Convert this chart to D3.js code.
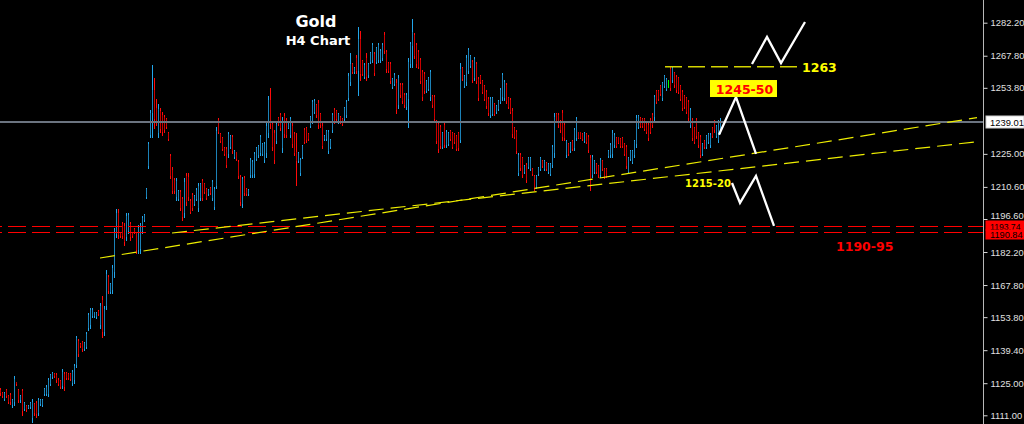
<!DOCTYPE html>
<html><head><meta charset="utf-8">
<script src="https://cdn.jsdelivr.net/npm/d3@7"></script>
<style>html,body{margin:0;padding:0;background:#000;overflow:hidden}</style>
</head><body><svg id="chart" width="1024" height="424"></svg>
<script>
// ---- DATA (Gold, H4) ----
const opens=[
1122.2,1120.9,1118.3,1121.9,1119.4,1119.8,1115.3,1116.8,1125.4,1121.9,
1117.5,1121.6,1113.8,1115.1,1114.3,1114.6,1110.0,1115.9,1116.4,1112.2,
1115.9,1115.5,1120.3,1120.5,1120.4,1124.8,1127.6,1129.1,1128.6,1126.6,
1125.8,1123.6,1129.0,1129.3,1128.8,1129.0,1125.0,1126.2,1132.9,1143.4,
1142.1,1142.9,1140.0,1141.0,1149.0,1150.2,1154.5,1154.4,1153.8,1156.5,
1150.5,1161.2,1147.5,1158.5,1171.3,1164.8,1165.7,1173.5,1190.2,1199.4,
1190.8,1194.5,1193.5,1188.8,1191.5,1194.4,1190.8,1192.2,1190.3,1183.2,
1183.5,1191.4,1196.3,1206.0,1219.5,1233.3,1242.8,1253.0,1245.0,1234.0,
1243.5,1242.0,1241.0,1240.0,1234.2,1224.0,1218.0,1213.6,1206.0,1205.4,
1208.5,1205.2,1199.0,1215.3,1215.0,1204.6,1207.0,1203.2,1205.4,1201.5,
1205.7,1213.0,1211.7,1209.5,1207.4,1210.3,1205.8,1201.8,1211.0,1239.8,
1233.6,1231.9,1227.7,1227.2,1224.8,1228.0,1232.5,1223.5,1225.6,1221.6,
1214.8,1203.2,1214.6,1209.6,1207.5,1216.0,1215.8,1216.2,1222.9,1224.3,
1225.3,1225.0,1222.5,1225.2,1234.0,1248.5,1238.0,1234.0,1230.5,1240.8,
1242.0,1227.5,1241.7,1239.7,1236.5,1233.4,1237.3,1233.7,1226.0,1222.0,
1216.5,1223.6,1235.6,1236.2,1233.7,1237.3,1239.3,1243.3,1246.2,1247.3,
1242.4,1237.3,1231.4,1231.5,1226.3,1227.8,1235.5,1244.2,1243.7,1238.8,
1241.1,1240.2,1240.3,1241.9,1249.5,1256.2,1264.0,1260.5,1267.0,1261.0,
1275.0,1265.3,1258.7,1267.0,1259.3,1265.0,1266.0,1268.6,1265.2,1266.0,
1265.8,1266.6,1277.0,1269.5,1264.7,1264.2,1254.0,1255.5,1256.0,1246.3,
1255.2,1254.9,1250.8,1245.5,1249.0,1264.0,1272.0,1277.0,1272.4,1269.6,
1265.8,1260.5,1259.8,1252.6,1253.5,1249.8,1250.2,1249.7,1239.0,1237.9,
1236.7,1228.1,1237.4,1228.8,1229.4,1235.0,1234.0,1233.6,1232.6,1233.9,
1231.0,1262.5,1254.8,1256.2,1261.0,1263.5,1265.0,1258.1,1264.3,1257.8,
1259.0,1256.6,1254.4,1252.1,1249.1,1242.0,1242.6,1246.6,1243.1,1244.5,
1247.7,1249.6,1249.3,1255.0,1249.4,1248.6,1243.8,1236.4,1234.4,1216.7,
1224.6,1223.0,1216.9,1220.1,1219.2,1218.6,1218.4,1215.2,1210.6,1216.2,
1218.6,1222.0,1218.5,1221.2,1217.0,1216.3,1220.3,1225.5,1242.3,1242.1,
1239.3,1242.8,1237.6,1224.5,1229.1,1226.4,1230.7,1227.6,1232.1,1234.4,
1234.4,1233.7,1230.7,1233.6,1232.5,1223.0,1216.0,1217.1,1220.5,1219.7,
1215.9,1221.9,1218.3,1218.3,1224.1,1224.4,1225.0,1228.7,1232.1,1232.2,
1231.4,1232.1,1229.1,1227.9,1217.2,1222.7,1221.5,1224.5,1229.5,1236.8,
1240.8,1240.1,1240.0,1237.9,1237.6,1239.9,1242.1,1240.9,1252.3,1252.5,
1254.6,1249.3,1254.8,1253.4,1255.6,1262.0,1257.1,1260.1,1258.7,1258.0,
1254.4,1252.0,1250.1,1249.2,1247.6,1237.7,1239.6,1236.2,1239.6,1234.0,
1232.3,1225.0,1230.7,1228.0,1230.0,1228.7,1236.5,1239.3,1233.0,1231.2,
1234.6];
const highs=[
1122.8,1121.3,1121.3,1122.4,1119.9,1120.6,1118.0,1128.2,1125.7,1122.4,
1119.9,1122.4,1117.0,1115.5,1115.5,1117.0,1118.0,1116.5,1117.3,1118.4,
1118.0,1118.0,1122.8,1124.2,1127.2,1129.0,1129.8,1129.3,1129.3,1127.2,
1126.4,1131.1,1129.8,1129.8,1129.3,1129.6,1130.8,1133.4,1145.6,1144.2,
1142.4,1143.6,1143.1,1147.5,1155.5,1157.7,1157.7,1156.2,1156.2,1156.9,
1159.9,1163.0,1158.7,1174.4,1172.2,1168.9,1176.6,1192.6,1200.8,1200.8,
1191.1,1195.4,1194.7,1199.1,1199.1,1195.4,1191.1,1192.6,1191.1,1194.0,
1194.7,1197.9,1198.8,1210.0,1230.3,1244.1,1263.8,1258.0,1248.8,1246.8,
1244.9,1243.4,1242.0,1240.5,1234.7,1225.0,1219.4,1214.4,1214.4,1209.3,
1209.3,1206.3,1214.4,1216.8,1216.5,1205.2,1207.8,1207.1,1210.0,1212.4,
1212.4,1213.9,1212.2,1210.0,1209.6,1210.7,1213.6,1210.7,1236.9,1240.5,
1234.0,1232.5,1228.1,1228.1,1234.7,1233.2,1233.2,1226.7,1226.0,1222.3,
1215.8,1215.1,1215.4,1210.0,1209.6,1223.1,1222.3,1226.0,1228.1,1228.9,
1233.2,1229.6,1230.3,1238.3,1250.2,1253.6,1239.0,1235.4,1239.0,1241.2,
1242.7,1241.2,1242.7,1240.5,1239.0,1241.0,1238.3,1234.7,1234.0,1226.0,
1223.1,1228.9,1236.2,1236.9,1234.0,1241.5,1248.5,1248.8,1246.8,1248.5,
1243.0,1238.3,1233.2,1235.4,1235.4,1231.4,1242.7,1244.9,1244.1,1242.7,
1241.5,1240.5,1245.3,1248.5,1260.1,1268.9,1264.5,1263.0,1268.1,1280.2,
1278.7,1266.0,1264.5,1268.9,1264.5,1269.6,1273.2,1269.6,1271.7,1273.2,
1270.6,1273.2,1278.3,1270.3,1265.2,1265.2,1258.0,1260.1,1257.5,1259.4,
1255.8,1255.8,1251.4,1251.4,1266.7,1273.9,1283.7,1277.6,1273.2,1270.3,
1266.7,1261.6,1260.8,1257.2,1258.7,1261.6,1250.7,1250.7,1239.8,1239.0,
1237.6,1234.7,1238.3,1235.4,1234.7,1235.4,1234.7,1234.0,1233.2,1234.7,
1264.5,1263.0,1259.4,1268.1,1271.0,1268.1,1265.9,1267.4,1265.2,1258.7,
1259.4,1257.2,1255.0,1252.9,1249.9,1249.9,1249.9,1247.1,1246.3,1248.5,
1253.6,1260.4,1257.2,1255.8,1249.9,1249.2,1244.9,1236.9,1235.4,1225.3,
1225.3,1223.8,1220.2,1220.9,1223.8,1223.8,1218.7,1215.8,1215.8,1219.4,
1223.8,1222.3,1222.3,1221.6,1220.9,1220.9,1228.9,1242.7,1242.7,1242.7,
1239.8,1244.1,1238.3,1231.1,1229.6,1230.3,1231.1,1236.2,1241.0,1234.7,
1234.7,1234.0,1234.7,1234.0,1233.2,1224.5,1224.5,1222.3,1220.9,1220.2,
1223.1,1222.3,1218.7,1218.7,1226.7,1229.6,1235.4,1234.0,1232.5,1232.5,
1231.8,1232.5,1229.6,1228.9,1223.8,1226.7,1226.7,1231.1,1242.0,1242.0,
1241.2,1240.5,1240.5,1238.3,1238.3,1240.5,1242.7,1250.7,1252.9,1252.9,
1255.0,1256.5,1259.4,1258.0,1257.2,1263.0,1263.0,1260.8,1259.4,1258.7,
1255.0,1252.9,1250.7,1249.9,1248.5,1244.9,1240.5,1236.9,1240.5,1234.7,
1233.2,1229.6,1231.1,1233.2,1234.0,1234.0,1236.9,1239.8,1237.6,1239.8,
1240.5];
const lows=[
1119.9,1119.1,1117.7,1118.9,1116.3,1115.9,1114.8,1115.5,1124.2,1117.0,
1117.0,1111.2,1113.3,1113.0,1114.1,1114.1,1108.2,1111.2,1110.4,1111.2,
1115.5,1115.0,1119.9,1119.9,1119.4,1124.2,1127.2,1127.9,1125.7,1124.2,
1122.8,1122.8,1122.1,1126.7,1126.7,1126.4,1124.2,1125.0,1132.1,1136.9,
1140.9,1139.2,1139.5,1140.2,1148.2,1149.0,1154.0,1154.0,1153.3,1154.8,
1149.0,1145.3,1146.0,1157.2,1164.2,1164.2,1164.2,1171.5,1188.9,1188.2,
1188.9,1188.2,1185.3,1187.5,1190.4,1187.5,1188.9,1190.4,1181.7,1181.7,
1181.7,1190.4,1195.9,1205.6,1218.7,1232.5,1232.5,1236.2,1237.6,1232.5,
1234.7,1233.2,1234.7,1236.2,1231.1,1214.4,1207.8,1207.8,1204.9,1204.9,
1200.5,1196.2,1197.6,1202.7,1204.9,1199.1,1200.5,1202.7,1204.9,1200.2,
1204.9,1204.9,1207.8,1205.2,1207.1,1207.5,1204.9,1200.8,1210.0,1234.0,
1230.3,1226.7,1224.5,1219.4,1223.8,1227.4,1225.3,1223.1,1222.3,1214.4,
1202.7,1202.0,1207.1,1207.1,1207.1,1215.1,1215.1,1215.1,1222.3,1223.8,
1224.5,1224.5,1221.6,1223.8,1232.5,1236.2,1226.7,1220.9,1229.6,1237.6,
1235.4,1226.0,1232.5,1232.5,1236.2,1232.5,1228.1,1224.5,1211.4,1221.6,
1215.8,1223.1,1229.6,1230.3,1231.1,1236.9,1238.3,1242.7,1241.2,1236.2,
1236.9,1227.4,1231.1,1231.1,1225.3,1227.4,1234.7,1238.3,1239.8,1238.3,
1238.3,1237.6,1239.8,1241.2,1248.5,1255.0,1260.1,1260.1,1260.1,1250.7,
1257.2,1259.4,1258.0,1257.2,1258.7,1264.5,1265.2,1259.4,1264.5,1265.2,
1265.2,1265.9,1268.9,1260.8,1260.8,1255.8,1253.6,1255.0,1242.7,1244.9,
1249.9,1247.1,1245.6,1244.5,1236.9,1263.0,1263.0,1266.7,1263.0,1262.3,
1255.8,1248.5,1251.4,1252.1,1252.9,1248.5,1245.6,1239.0,1229.6,1226.0,
1227.4,1227.4,1228.1,1228.1,1228.9,1231.1,1227.4,1229.6,1226.7,1226.7,
1230.3,1257.2,1254.3,1255.0,1260.1,1263.0,1256.5,1257.2,1255.8,1248.5,
1255.8,1251.4,1248.5,1244.9,1241.9,1241.2,1241.9,1241.9,1242.7,1244.1,
1247.1,1248.5,1248.5,1247.1,1244.9,1242.7,1232.5,1231.8,1225.3,1215.8,
1218.0,1215.1,1216.5,1212.9,1218.7,1218.0,1215.8,1209.3,1210.0,1215.8,
1218.0,1219.4,1218.0,1218.0,1216.5,1215.8,1219.4,1223.8,1239.0,1236.9,
1234.7,1231.1,1231.1,1223.8,1224.5,1226.0,1226.7,1226.7,1231.1,1231.8,
1231.8,1231.1,1230.3,1229.6,1226.0,1209.3,1215.1,1216.5,1216.5,1215.1,
1215.1,1218.0,1214.4,1215.1,1223.8,1223.8,1223.8,1228.1,1228.1,1229.6,
1228.1,1228.1,1224.5,1218.7,1216.5,1222.3,1220.9,1223.8,1228.1,1236.2,
1236.9,1236.9,1235.4,1234.0,1231.1,1234.0,1236.9,1239.8,1247.1,1248.5,
1250.7,1248.5,1254.3,1252.9,1254.3,1252.9,1256.5,1254.3,1252.1,1251.4,
1248.5,1244.1,1244.9,1242.7,1239.8,1236.9,1231.1,1229.6,1231.8,1228.1,
1223.8,1224.5,1227.4,1227.4,1229.6,1228.1,1232.5,1234.7,1232.5,1230.3,
1234.0];
const closes=[
1120.6,1119.6,1120.8,1119.4,1116.9,1116.6,1117.5,1126.9,1124.5,1117.8,
1119.4,1112.9,1116.4,1113.5,1115.2,1116.5,1116.8,1112.0,1111.5,1117.6,
1117.6,1117.5,1122.3,1123.5,1126.4,1128.4,1129.3,1128.2,1126.2,1124.7,
1123.4,1129.9,1123.2,1127.2,1127.1,1126.9,1130.0,1132.6,1144.5,1137.8,
1141.2,1139.9,1142.5,1146.6,1154.6,1156.8,1157.1,1155.9,1155.7,1155.1,
1158.6,1147.5,1157.4,1172.6,1165.3,1168.2,1175.3,1190.4,1199.2,1189.7,
1189.3,1189.1,1186.5,1197.9,1198.2,1188.6,1189.3,1190.8,1183.0,1192.6,
1193.4,1197.0,1198.4,1209.5,1229.5,1243.0,1253.0,1240.0,1239.0,1244.5,
1236.0,1234.5,1235.5,1236.8,1231.6,1215.5,1209.0,1208.6,1213.2,1208.8,
1201.5,1197.5,1212.8,1204.0,1206.0,1199.8,1201.3,1206.5,1209.4,1211.2,
1211.7,1205.8,1208.3,1205.8,1209.3,1207.9,1212.8,1209.8,1235.0,1234.6,
1230.8,1227.3,1225.0,1220.3,1233.6,1232.6,1226.1,1226.2,1222.8,1215.2,
1204.0,1213.9,1208.0,1207.5,1209.2,1222.2,1221.6,1225.0,1227.5,1228.3,
1232.3,1229.1,1229.4,1237.0,1248.5,1238.0,1228.0,1222.5,1238.0,1238.0,
1236.2,1239.8,1233.5,1233.3,1238.6,1240.1,1229.1,1225.5,1222.0,1225.5,
1222.4,1228.3,1230.2,1231.0,1231.4,1241.0,1247.5,1248.2,1241.8,1237.4,
1237.5,1228.4,1232.9,1235.0,1234.4,1231.0,1241.9,1239.0,1240.2,1242.2,
1238.7,1238.0,1244.8,1247.8,1259.0,1264.0,1260.6,1262.6,1261.0,1275.0,
1260.0,1260.0,1263.8,1258.5,1264.0,1269.0,1272.4,1260.4,1271.0,1272.4,
1270.0,1272.5,1270.0,1261.8,1261.3,1256.8,1257.5,1259.5,1244.2,1258.0,
1250.5,1248.0,1246.2,1250.5,1265.0,1273.0,1278.0,1267.5,1264.0,1263.0,
1256.8,1249.6,1252.3,1256.7,1258.0,1260.5,1246.1,1240.0,1230.5,1227.1,
1228.3,1234.0,1229.0,1234.7,1234.2,1231.5,1228.1,1230.0,1227.3,1227.5,
1262.0,1257.8,1258.9,1267.0,1270.1,1267.6,1257.4,1266.5,1256.7,1249.4,
1256.2,1252.0,1249.1,1245.7,1242.7,1249.0,1249.2,1242.4,1245.9,1248.0,
1253.0,1259.2,1256.4,1248.0,1245.4,1243.3,1233.6,1232.3,1226.3,1224.4,
1218.7,1216.0,1219.8,1213.7,1223.3,1223.2,1216.1,1210.0,1215.2,1219.0,
1223.2,1219.7,1221.8,1218.4,1220.4,1220.4,1228.0,1241.0,1239.4,1237.5,
1235.2,1232.4,1231.8,1230.4,1225.0,1229.9,1227.1,1235.3,1240.0,1232.1,
1232.1,1231.4,1234.3,1230.0,1226.7,1210.8,1223.6,1221.7,1216.9,1215.6,
1222.3,1218.4,1214.8,1215.5,1226.4,1229.0,1234.2,1233.4,1228.5,1229.9,
1228.5,1228.5,1225.0,1219.7,1223.1,1226.3,1226.1,1230.4,1240.6,1241.4,
1237.3,1237.3,1235.9,1234.4,1231.8,1234.6,1237.5,1249.6,1247.7,1248.9,
1251.1,1255.7,1258.9,1257.5,1255.6,1253.9,1262.4,1254.9,1252.8,1252.1,
1249.1,1245.0,1245.5,1243.4,1240.7,1244.1,1232.0,1230.3,1232.7,1228.8,
1224.7,1229.1,1227.8,1232.6,1233.6,1233.4,1232.9,1235.2,1237.1,1239.0,
1239.01];

const tickValues=[1282.20,1267.80,1253.80,1225.00,1210.60,1196.60,1182.20,1167.80,1153.80,1139.40,1125.00,1111.00];
const currentPrice=1239.01;
const supportLevels=[1193.74,1190.84];
const resistanceLevel=1263;
const resistanceSpan=[332.25,399.75];          // candle index span of the 1263 line
const trendLineA=[[49.75,1179.6],[488.25,1240.8]];
const trendLineB=[[85.75,1190.5],[488.25,1230.3]];
const zigzagTop=[[375.75,1264.2],[383.25,1276.0],[390.25,1264.6],[402.25,1282.5]];
const zigzagMid=[[359.25,1233.3],[367.75,1249.8],[377.75,1225.0]];
const zigzagLow=[[365.75,1212.3],[369.75,1203.6],[377.75,1215.4],[386.75,1193.6]];
const titleLines=["Gold","H4 Chart"];
const noteTexts={resistance:"1263",target:"1245-50",support:"1215-20",zone:"1190-95"};

// ---- CHECK ----
if(!(opens.length===highs.length&&highs.length===lows.length&&lows.length===closes.length)){
  throw new Error("length mismatch "+[opens.length,highs.length,lows.length,closes.length].join(","));
}

// ---- DRAW ----
const W=1024,H=424,axisX=983;
const svg=d3.select("#chart");
svg.append("rect").attr("width",W).attr("height",H).attr("fill","#000");

const x=d3.scaleLinear().domain([0,opens.length-1]).range([0.5,0.5+2*(opens.length-1)]);
const y=d3.scaleLinear().domain([1111.0,1282.2]).range([415.3,22.7]);
const px=i=>Math.round(x(i)-0.5)+0.5;

svg.append("defs").append("clipPath").attr("id","plot")
  .append("rect").attr("x",0).attr("y",0).attr("width",axisX).attr("height",H);

const plot=svg.append("g").attr("clip-path","url(#plot)");

// title
const font="'DejaVu Sans', Verdana, sans-serif";
svg.append("text").attr("x",316).attr("y",27).attr("text-anchor","middle")
  .attr("font-family",font).attr("font-weight","bold").attr("font-size",16)
  .attr("fill","#fff").text(titleLines[0]);
svg.append("text").attr("x",318).attr("y",45).attr("text-anchor","middle")
  .attr("font-family",font).attr("font-weight","bold").attr("font-size",13)
  .attr("fill","#fff").text(titleLines[1]);

// candles
const idx=d3.range(opens.length);
const col=i=>closes[i]>opens[i]?"up":(closes[i]<opens[i]?"down":"doji");
const wickColor={up:"#22a6ea",down:"#ff0a0a",doji:"#00ff00"};
const bodyColor={up:"#1c82b8",down:"#c80000",doji:"#00ff00"};
const cg=plot.append("g").attr("shape-rendering","crispEdges");
cg.selectAll("line.wick").data(idx).join("line").attr("class","wick")
  .attr("x1",i=>px(i)).attr("x2",i=>px(i))
  .attr("y1",i=>Math.round(y(highs[i]))).attr("y2",i=>Math.round(y(lows[i]))+1)
  .attr("stroke",i=>wickColor[col(i)]).attr("stroke-width",1);
cg.selectAll("rect.body").data(idx).join("rect").attr("class","body")
  .attr("x",i=>px(i)-0.5).attr("width",1)
  .attr("y",i=>Math.round(y(Math.max(opens[i],closes[i]))))
  .attr("height",i=>Math.max(1,Math.round(y(Math.min(opens[i],closes[i])))-Math.round(y(Math.max(opens[i],closes[i])))))
  .attr("fill",i=>bodyColor[col(i)]);

// current price line
plot.append("line").attr("x1",0).attr("x2",axisX).attr("y1",Math.round(y(currentPrice))).attr("y2",Math.round(y(currentPrice)))
  .attr("stroke","#6b7480").attr("stroke-width",2).attr("shape-rendering","crispEdges");

// support red dashed lines
plot.selectAll("line.sup").data(supportLevels).join("line").attr("class","sup")
  .attr("x1",0).attr("x2",axisX)
  .attr("y1",d=>Math.round(y(d))+0.5).attr("y2",d=>Math.round(y(d))+0.5)
  .attr("stroke","#ff0000").attr("stroke-width",1).attr("shape-rendering","crispEdges")
  .attr("stroke-dasharray","18,6").attr("stroke-dashoffset",16);

// trend lines
const ln=d3.line().x(d=>x(d[0])).y(d=>y(d[1]));
plot.selectAll("path.trend").data([trendLineA,trendLineB]).join("path").attr("class","trend")
  .attr("d",ln).attr("fill","none").attr("stroke","#eded00").attr("stroke-width",1.2)
  .attr("stroke-dasharray","15,7");

// 1263 resistance line
plot.append("line").attr("x1",x(resistanceSpan[0])).attr("x2",x(resistanceSpan[1]))
  .attr("y1",y(resistanceLevel)).attr("y2",y(resistanceLevel))
  .attr("stroke","#d4d400").attr("stroke-width",1.6)
  .attr("stroke-dasharray","17,6");

// zigzag arrows
plot.selectAll("path.zz").data([zigzagTop,zigzagMid,zigzagLow]).join("path").attr("class","zz")
  .attr("d",ln).attr("fill","none").attr("stroke","#ffffff").attr("stroke-width",2.3)
  .attr("stroke-linejoin","miter").attr("stroke-linecap","butt");

// annotation labels
svg.append("text").attr("x",x(400.75)).attr("y",y(resistanceLevel)+5)
  .attr("font-family",font).attr("font-weight","bold").attr("font-size",12.5)
  .attr("fill","#ffff00").text(noteTexts.resistance);
const tg=svg.append("g");
const tcx=x(371.5), tcy=y(1253.5);
tg.append("rect").attr("x",tcx-33.5).attr("y",tcy-8.5).attr("width",67).attr("height",17).attr("fill","#ffff00");
tg.append("text").attr("x",tcx+1).attr("y",tcy+5).attr("text-anchor","middle")
  .attr("font-family",font).attr("font-weight","bold").attr("font-size",12.5)
  .attr("fill","#ff0000").text(noteTexts.target);
svg.append("text").attr("x",x(342.25)).attr("y",y(1210.5))
  .attr("font-family",font).attr("font-weight","bold").attr("font-size",10)
  .attr("fill","#ffff00").text(noteTexts.support);
svg.append("text").attr("x",x(417.75)).attr("y",y(1182.6))
  .attr("font-family",font).attr("font-weight","bold").attr("font-size",12.5)
  .attr("fill","#ff0000").text(noteTexts.zone);

// price axis
svg.append("line").attr("x1",axisX+0.5).attr("x2",axisX+0.5).attr("y1",0).attr("y2",H)
  .attr("stroke","#b8b8b8").attr("stroke-width",1);
const axis=d3.axisRight(y).tickValues(tickValues).tickSize(4).tickPadding(3).tickFormat(d3.format(".2f"));
const ag=svg.append("g").attr("transform",`translate(${axisX+0.5},0)`).call(axis);
ag.select(".domain").remove();
ag.selectAll(".tick line").attr("stroke","#d8d8d8");
ag.selectAll(".tick text").attr("fill","#e0e0e0").attr("font-family","'Liberation Sans', Arial, sans-serif").attr("font-size",9.4);
// the 1196.60 label sits partly under the level boxes, as in the original
ag.selectAll(".tick text").filter(d=>d===1196.60).attr("dy","-0.05em");

// level boxes on axis
function axisBox(value,bg,fg,top,h,base,fs){
  svg.append("rect").attr("x",axisX+3).attr("y",top).attr("width",W-axisX-3).attr("height",h)
    .attr("fill",bg).attr("stroke",bg==="#ffffff"?"#cfcfcf":bg).attr("stroke-width",1);
  svg.append("text").attr("x",axisX+7).attr("y",base)
    .attr("font-family","'Liberation Sans', Arial, sans-serif").attr("font-size",fs)
    .attr("fill",fg).text(d3.format(".2f")(value));
}
const ys0=Math.round(y(supportLevels[0])), ys1=Math.round(y(supportLevels[1])), yc=Math.round(y(currentPrice));
axisBox(supportLevels[0],"#ff0000","#000000",ys0-5,9,ys0+3.5,8.6);
axisBox(supportLevels[1],"#ff0000","#000000",ys0+4,ys1-ys0+3,ys1+5.5,9.2);
axisBox(currentPrice,"#ffffff","#000000",yc-6,12,yc+3.5,9.4);
</script></body></html>
